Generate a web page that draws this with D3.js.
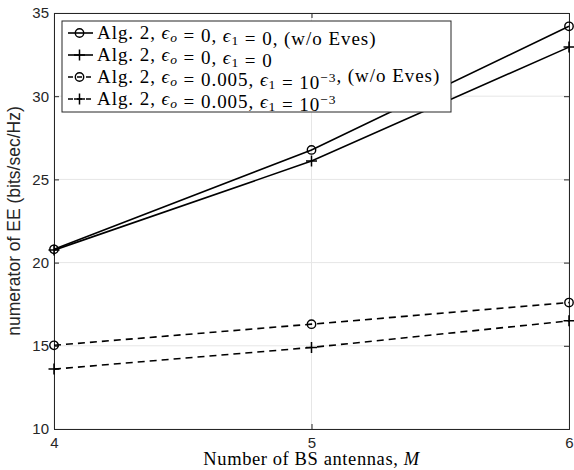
<!DOCTYPE html>
<html>
<head>
<meta charset="utf-8">
<script src="https://cdn.jsdelivr.net/npm/d3@7"></script>
<style>
  body { margin: 0; background: #fff; }
  .tick text { font-family: "Liberation Sans", Arial, sans-serif; font-size: 15px; fill: #262626; }
  .grid line { stroke: #e6e6e6; stroke-width: 1; }
  .serif { font-family: "Liberation Serif", "Times New Roman", serif; }
</style>
</head>
<body>
<div id="chart"></div>
<script>
// values
var antennas = [4, 5, 6];
var eeNoEvesPerfect = [20.8, 26.77, 34.2];
var eePerfect = [20.75, 26.1, 32.95];
var eeNoEvesImperfect = [15.03, 16.3, 17.6];
var eeImperfect = [13.6, 14.9, 16.5];
var xTicks = [4, 5, 6];
var yTicks = [10, 15, 20, 25, 30, 35];

function create_chart(div_id){
    var W = 574, H = 470;
    var margin = {top: 13, right: 5, bottom: 41, left: 54}
        , width = W - margin.left - margin.right
        , height = H - margin.top - margin.bottom;

    var series = [
        {values: eeNoEvesPerfect, marker: "circle", dash: null},
        {values: eePerfect, marker: "plus", dash: null},
        {values: eeNoEvesImperfect, marker: "circle", dash: "7,5"},
        {values: eeImperfect, marker: "plus", dash: "7,5"}
    ];

    var xScale = d3.scaleLinear().domain([4, 6]).range([0, width]);
    var yScale = d3.scaleLinear().domain([10, 35]).range([height, 0]);

    var svg = d3.select(div_id).append("svg")
        .attr("width", W)
        .attr("height", H)
        .append("g")
        .attr("transform", "translate(" + margin.left + "," + margin.top + ")");

    // grid
    var grid = svg.append("g").attr("class", "grid");
    grid.selectAll(".gy").data(yTicks).enter().append("line")
        .attr("x1", 0).attr("x2", width)
        .attr("y1", function(d){ return yScale(d); })
        .attr("y2", function(d){ return yScale(d); });
    grid.selectAll(".gx").data(xTicks).enter().append("line")
        .attr("y1", 0).attr("y2", height)
        .attr("x1", function(d){ return xScale(d); })
        .attr("x2", function(d){ return xScale(d); });

    // axes, MATLAB style ticks pointing inward
    var axisColor = "#262626";
    function style_axis(g){
        g.select(".domain").attr("stroke", axisColor);
        g.selectAll(".tick line").attr("stroke", axisColor);
    }
    svg.append("g")
        .attr("transform", "translate(0," + height + ")")
        .call(d3.axisBottom(xScale).tickValues(xTicks).tickSize(-5).tickPadding(8).tickFormat(d3.format("d")))
        .call(style_axis);
    svg.append("g")
        .call(d3.axisLeft(yScale).tickValues(yTicks).tickSize(-5).tickPadding(5).tickFormat(d3.format("d")))
        .call(style_axis);
    svg.append("g")
        .call(d3.axisTop(xScale).tickValues(xTicks).tickSize(-5).tickFormat(""))
        .call(style_axis);
    svg.append("g")
        .attr("transform", "translate(" + width + ",0)")
        .call(d3.axisRight(yScale).tickValues(yTicks).tickSize(-5).tickFormat(""))
        .call(style_axis);

    // lines
    var line = d3.line()
        .x(function(d, i){ return xScale(antennas[i]); })
        .y(function(d){ return yScale(d); });

    function draw_marker(g, type, x, y){
        if (type === "circle"){
            g.append("circle").attr("cx", x).attr("cy", y).attr("r", 4.2)
                .attr("fill", "none").attr("stroke", "#000").attr("stroke-width", 1.4);
        } else {
            g.append("path")
                .attr("d", "M" + (x - 5.5) + "," + y + "H" + (x + 5.5) + "M" + x + "," + (y - 5.5) + "V" + (y + 5.5))
                .attr("stroke", "#000").attr("stroke-width", 1.5);
        }
    }

    series.forEach(function(s){
        svg.append("path")
            .datum(s.values)
            .attr("fill", "none")
            .attr("stroke", "#000")
            .attr("stroke-width", 1.6)
            .attr("stroke-dasharray", s.dash)
            .attr("d", line);
        var mg = svg.append("g");
        s.values.forEach(function(v, i){
            draw_marker(mg, s.marker, xScale(antennas[i]), yScale(v));
        });
    });

    // legend
    var lg = svg.append("g").attr("transform", "translate(8,8)");
    lg.append("rect").attr("width", 389).attr("height", 91)
        .attr("fill", "#fff").attr("stroke", "#262626").attr("stroke-width", 1);

    var labels = [
        [["Alg. 2, ", ""], ["ϵ", "i"], ["o", "isub"], [" = 0, ", ""], ["ϵ", "i"], ["1", "sub"], [" = 0, (w/o Eves)", ""]],
        [["Alg. 2, ", ""], ["ϵ", "i"], ["o", "isub"], [" = 0, ", ""], ["ϵ", "i"], ["1", "sub"], [" = 0", ""]],
        [["Alg. 2, ", ""], ["ϵ", "i"], ["o", "isub"], [" = 0.005, ", ""], ["ϵ", "i"], ["1", "sub"], [" = 10", ""], ["−3", "sup"], [", (w/o Eves)", ""]],
        [["Alg. 2, ", ""], ["ϵ", "i"], ["o", "isub"], [" = 0.005, ", ""], ["ϵ", "i"], ["1", "sub"], [" = 10", ""], ["−3", "sup"]]
    ];

    series.forEach(function(s, i){
        var cy = 12 + i * 22;
        var row = lg.append("g");
        row.append("line").attr("x1", 6).attr("x2", 31).attr("y1", cy).attr("y2", cy)
            .attr("stroke", "#000").attr("stroke-width", 1.6).attr("stroke-dasharray", s.dash ? "5,4" : null);
        draw_marker(row, s.marker, 17.5, cy);
        var t = row.append("text").attr("class", "serif")
            .attr("x", 35).attr("y", cy + 5.5)
            .style("font-size", "19px").style("letter-spacing", "0.95px").attr("fill", "#000");
        labels[i].forEach(function(p){
            var ts = t.append("tspan").text(p[0]);
            if (p[1] === "i" || p[1] === "isub") ts.style("font-style", "italic");
            if (p[1] === "isub" || p[1] === "sub"){
                ts.style("font-size", "13.5px").attr("dy", 3);
                t.append("tspan").attr("dy", -3).text("");
            }
            if (p[1] === "sup"){
                ts.style("font-size", "13.5px").attr("dy", -7);
                t.append("tspan").attr("dy", 7).text("");
            }
        });
    });

    // axis labels
    svg.append("text")
        .attr("class", "serif")
        .attr("x", width / 2).attr("y", height + 36)
        .attr("text-anchor", "middle")
        .style("font-size", "18.5px")
        .style("letter-spacing", "0.6px")
        .html("Number of BS antennas, <tspan font-style='italic'>M</tspan>");

    svg.append("text")
        .attr("transform", "translate(-34," + (height / 2) + ") rotate(-90)")
        .attr("text-anchor", "middle")
        .style("font-family", "'Liberation Sans', Arial, sans-serif")
        .style("font-size", "17.5px")
        .attr("fill", "#262626")
        .text("numerator of EE (bits/sec/Hz)");
}

create_chart("#chart");
</script>
</body>
</html>
